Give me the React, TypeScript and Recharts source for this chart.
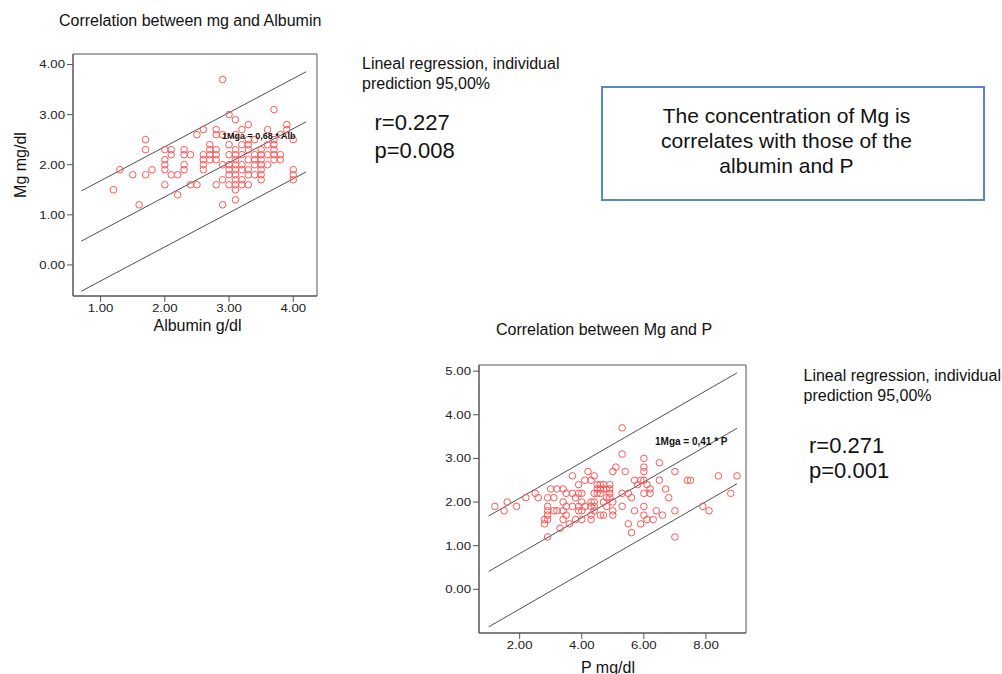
import React from 'react';
import { ScatterChart, Scatter, XAxis, YAxis, ReferenceLine, ReferenceArea } from 'recharts';

// Albumin (g/dl) vs Mg (mg/dl)
const albX = [1.2, 1.3, 1.5, 1.6, 1.7, 1.7, 1.7, 1.8, 2.0, 2.0, 2.0, 2.0, 2.0, 2.1, 2.1, 2.1, 2.2, 2.2, 2.3, 2.3, 2.3, 2.3, 2.4, 2.4, 2.5, 2.5, 2.6, 2.6, 2.6, 2.6, 2.6, 2.7, 2.7, 2.7, 2.7, 2.8, 2.8, 2.8, 2.8, 2.8, 2.8, 2.9, 2.9, 2.9, 2.9, 2.9, 3.0, 3.0, 3.0, 3.0, 3.0, 3.0, 3.0, 3.1, 3.1, 3.1, 3.1, 3.1, 3.1, 3.1, 3.1, 3.1, 3.1, 3.1, 3.1, 3.2, 3.2, 3.2, 3.2, 3.2, 3.2, 3.2, 3.3, 3.3, 3.3, 3.3, 3.3, 3.3, 3.3, 3.3, 3.4, 3.4, 3.4, 3.4, 3.4, 3.5, 3.5, 3.5, 3.5, 3.5, 3.5, 3.5, 3.6, 3.6, 3.6, 3.6, 3.7, 3.7, 3.7, 3.7, 3.7, 3.7, 3.8, 3.8, 3.8, 3.9, 3.9, 4.0, 4.0, 4.0, 4.0];
const albMg = [1.5, 1.9, 1.8, 1.2, 2.5, 2.3, 1.8, 1.9, 2.3, 2.1, 2.0, 1.9, 1.6, 2.3, 2.2, 1.8, 1.8, 1.4, 2.3, 2.2, 2.0, 1.9, 2.2, 1.6, 2.6, 1.6, 2.7, 2.2, 2.1, 2.0, 1.9, 2.4, 2.3, 2.2, 2.1, 2.7, 2.6, 2.3, 2.2, 2.1, 1.6, 3.7, 2.6, 2.0, 1.7, 1.2, 3.0, 2.4, 2.2, 2.0, 1.9, 1.8, 1.6, 2.9, 2.6, 2.3, 2.2, 2.1, 2.0, 1.9, 1.8, 1.7, 1.6, 1.5, 1.3, 2.7, 2.4, 2.2, 2.0, 1.9, 1.7, 1.6, 2.8, 2.5, 2.4, 2.3, 2.1, 1.9, 1.8, 1.6, 2.5, 2.2, 2.1, 2.0, 1.8, 2.3, 2.2, 2.1, 2.0, 1.9, 1.8, 1.7, 2.7, 2.4, 2.2, 2.0, 3.1, 2.5, 2.4, 2.3, 2.2, 2.1, 2.6, 2.2, 2.1, 2.8, 2.7, 2.5, 1.9, 1.8, 1.7];

// P (mg/dl) vs Mg (mg/dl)
const phX = [1.2, 1.5, 1.6, 1.9, 2.2, 2.5, 2.6, 2.8, 2.8, 2.9, 2.9, 2.9, 2.9, 2.9, 2.9, 3.0, 3.1, 3.1, 3.2, 3.2, 3.3, 3.4, 3.4, 3.4, 3.4, 3.5, 3.5, 3.5, 3.6, 3.7, 3.7, 3.7, 3.8, 3.8, 3.9, 3.9, 3.9, 3.9, 4.0, 4.0, 4.0, 4.0, 4.1, 4.1, 4.2, 4.3, 4.3, 4.3, 4.3, 4.3, 4.4, 4.4, 4.4, 4.4, 4.4, 4.5, 4.5, 4.5, 4.6, 4.6, 4.6, 4.6, 4.7, 4.7, 4.7, 4.7, 4.8, 4.8, 4.8, 4.9, 4.9, 4.9, 4.9, 5.0, 5.0, 5.0, 5.0, 5.1, 5.3, 5.3, 5.3, 5.3, 5.4, 5.5, 5.5, 5.6, 5.6, 5.7, 5.7, 5.8, 5.9, 5.9, 6.0, 6.0, 6.0, 6.0, 6.0, 6.0, 6.0, 6.1, 6.1, 6.2, 6.2, 6.3, 6.4, 6.5, 6.5, 6.6, 6.7, 6.8, 7.0, 7.0, 7.0, 7.4, 7.5, 7.9, 8.1, 8.4, 8.8, 9.0];
const phMg = [1.9, 1.8, 2.0, 1.9, 2.1, 2.2, 2.1, 1.6, 1.5, 2.1, 1.9, 1.8, 1.7, 1.6, 1.2, 2.3, 2.1, 1.8, 1.8, 2.3, 1.4, 2.3, 2.0, 1.8, 1.6, 2.2, 1.9, 1.7, 1.5, 2.6, 2.2, 1.9, 2.1, 1.6, 1.9, 2.4, 2.2, 1.8, 2.2, 2.0, 1.8, 1.6, 1.9, 2.5, 2.7, 2.0, 1.9, 1.7, 1.6, 2.5, 2.6, 2.2, 2.0, 1.9, 1.8, 2.4, 2.3, 2.2, 2.4, 2.3, 2.2, 1.7, 2.4, 2.3, 2.0, 1.7, 2.3, 2.1, 1.9, 2.4, 2.3, 2.2, 2.1, 2.7, 2.0, 1.8, 1.7, 2.8, 3.7, 3.1, 2.2, 1.9, 2.7, 2.2, 1.5, 2.1, 1.3, 1.8, 2.5, 2.4, 1.5, 2.5, 3.0, 2.8, 2.7, 2.5, 2.2, 1.9, 1.7, 2.4, 1.6, 2.3, 2.2, 1.6, 1.8, 2.9, 2.5, 1.7, 2.3, 2.1, 2.7, 1.8, 1.2, 2.5, 2.5, 1.9, 1.8, 2.6, 2.2, 2.6];

// regression through origin with 95% individual prediction band
const albSlope = 0.68;
const albBand = [-1.0, 0, 1.0];
const albRange = [0.7, 4.2];
const phSlope = 0.41;
const phBand = [-1.27, 0, 1.27];
const phRange = [1.0, 9.0];

const albTicksX = [1, 2, 3, 4];
const albTicksY = [0, 1, 2, 3, 4];
const phTicksX = [2, 4, 6, 8];
const phTicksY = [0, 1, 2, 3, 4, 5];

const albDomX = [0.57, 4.37];
const albDomY = [-0.62, 4.21];
const phDomX = [0.69, 9.29];
const phDomY = [-1.0, 5.14];

const zip = (xs: number[], ys: number[]) => xs.map((x, i) => ({ x, y: ys[i] }));

const Ring = (props: any) => (
  <circle cx={props.cx} cy={props.cy} r={3.3} fill="none" stroke="#ff5555" strokeWidth={1} />
);

// tick labels in the source are drawn wide and short
const WideTick = (props: any) => {
  const { x, y, payload, textAnchor, dy } = props;
  return (
    <g transform={`translate(${x},${y}) scale(1.2,1)`}>
      <text x={0} y={0} dy={dy} textAnchor={textAnchor} fill="#222" fontSize={11}>
        {Number(payload.value).toFixed(2)}
      </text>
    </g>
  );
};

const abs = (left: number, top: number, extra: React.CSSProperties = {}): React.CSSProperties => ({
  position: 'absolute',
  left,
  top,
  whiteSpace: 'nowrap',
  ...extra,
});

const Plot = ({ data, slope, band, range, domX, domY, ticksX, ticksY, width, height, margin }: any) => (
  <ScatterChart width={width} height={height} margin={margin}>
    <XAxis type="number" dataKey="x" domain={domX} ticks={ticksX} allowDataOverflow stroke="#555" height={30}
      tick={(p: any) => <WideTick {...p} textAnchor="middle" dy="0.71em" />} />
    <YAxis type="number" dataKey="y" domain={domY} ticks={ticksY} allowDataOverflow stroke="#555" width={60}
      tick={(p: any) => <WideTick {...p} textAnchor="end" dy="0.36em" />} />
    <ReferenceArea x1={domX[0]} x2={domX[1]} y1={domY[0]} y2={domY[1]} fill="none" stroke="#555" strokeOpacity={1} />
    {band.map((b: number, i: number) => (
      <ReferenceLine key={i} stroke="#222" strokeWidth={0.8}
        segment={[{ x: range[0], y: slope * range[0] + b }, { x: range[1], y: slope * range[1] + b }]} />
    ))}
    <Scatter data={data} shape={Ring} isAnimationActive={false} />
  </ScatterChart>
);

export default function App() {
  return (
    <div style={{ position: 'absolute', left: 0, top: 0, width: 1002, height: 674, background: '#fff',
      fontFamily: '"Liberation Sans", Arial, sans-serif', color: '#111' }}>
      <div style={abs(59, 12, { fontSize: 16, lineHeight: '18px' })}>Correlation between mg and Albumin</div>
      <div style={abs(0, 0)}>
        <Plot data={zip(albX, albMg)} slope={albSlope} band={albBand} range={albRange}
          domX={albDomX} domY={albDomY} ticksX={albTicksX} ticksY={albTicksY}
          width={330} height={340} margin={{ top: 54, right: 13, bottom: 14, left: 13 }} />
      </div>
      <div style={abs(20.5, 165, { fontSize: 16, lineHeight: '18px', transform: 'translate(-50%, -50%) rotate(-90deg)' })}>Mg mg/dl</div>
      <div style={abs(197.5, 316.5, { fontSize: 16, lineHeight: '18px', transform: 'translateX(-50%)' })}>Albumin g/dl</div>
      <div style={abs(222, 131, { fontSize: 9, fontWeight: 'bold' })}>1Mga = 0,68 * Alb</div>

      <div style={abs(362, 54, { fontSize: 16, lineHeight: '20px' })}>Lineal regression, individual<br />prediction 95,00%</div>
      <div style={abs(374.5, 109, { fontSize: 22, lineHeight: '28px' })}>r=0.227<br />p=0.008</div>

      <div style={{ position: 'absolute', left: 601, top: 86, width: 384, height: 115, boxSizing: 'border-box',
        border: '2px solid #5a86c2', textAlign: 'center', fontSize: 21, lineHeight: '25px',
        paddingTop: 15, paddingRight: 13 }}>
        The concentration of Mg is<br />correlates with those of the<br />albumin and P
      </div>

      <div style={abs(496, 320.5, { fontSize: 16, lineHeight: '18px' })}>Correlation between Mg and P</div>
      <div style={abs(420, 330)}>
        <Plot data={zip(phX, phMg)} slope={phSlope} band={phBand} range={phRange}
          domX={phDomX} domY={phDomY} ticksX={phTicksX} ticksY={phTicksY}
          width={340} height={340} margin={{ top: 35, right: 14, bottom: 7, left: -1 }} />
      </div>
      <div style={abs(608, 658.5, { fontSize: 16, lineHeight: '18px', transform: 'translateX(-50%)' })}>P mg/dl</div>
      <div style={abs(655, 436, { fontSize: 10, fontWeight: 'bold' })}>1Mga = 0,41 * P</div>

      <div style={abs(803.5, 365.5, { fontSize: 16, lineHeight: '20px' })}>Lineal regression, individual<br />prediction 95,00%</div>
      <div style={abs(809, 433, { fontSize: 22, lineHeight: '25px' })}>r=0.271<br />p=0.001</div>
    </div>
  );
}
